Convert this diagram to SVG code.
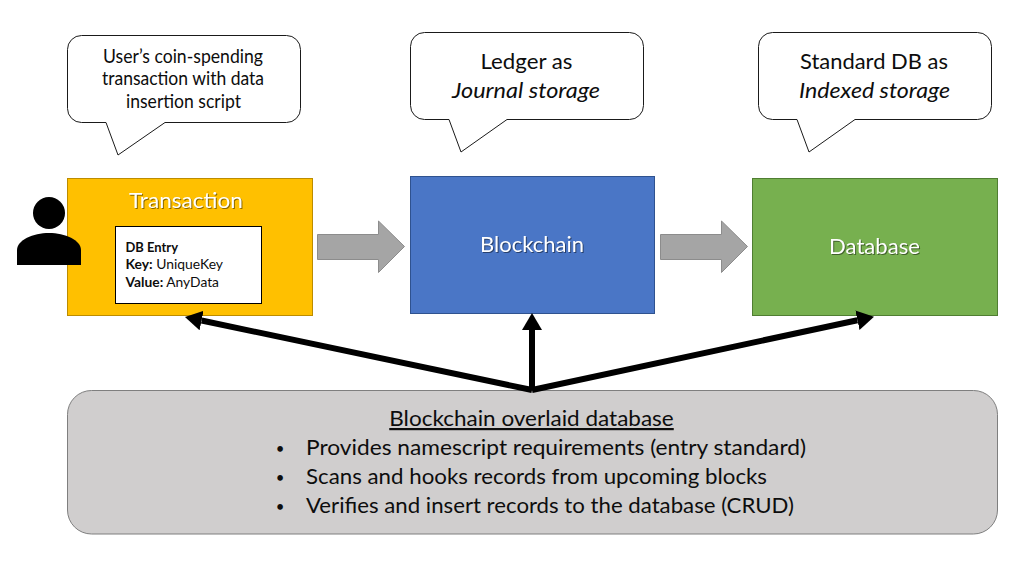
<svg xmlns="http://www.w3.org/2000/svg" width="1023" height="567" viewBox="0 0 1023 567">
  <style>
    text { font-family: "Lato", "Open Sans", "Liberation Sans", sans-serif; fill: #0d0d0d; text-anchor: middle; }
    .bubble { fill: #fff; stroke: #1a1a1a; stroke-width: 1; stroke-linejoin: round; }
    .callout { font-size: 18.500px; }
    .callout-large { font-size: 22px; }
    .title { font-size: 22px; fill: #fff; filter: drop-shadow(1px 1px 0.7px rgba(0,0,0,0.45)); }
    .entry { font-size: 13.500px; text-anchor: start; }
    .bold { font-weight: 700; }
    .list { font-size: 22px; text-anchor: start; }
    .dot { font-size: 15px; text-anchor: middle; }
    .flow { fill: #a5a5a5; stroke: #8c8c8c; stroke-width: 1; }
    .link { fill: none; stroke: #000; stroke-width: 6; }
  </style>
  <defs>
    <marker id="head" markerUnits="userSpaceOnUse" markerWidth="17" markerHeight="20" refX="0" refY="10" orient="auto">
      <path d="M0 0L17 10L0 20Z" fill="#000"/>
    </marker>
  </defs>

  <g id="note-transaction">
    <path class="bubble" d="M82 35.500H286.500A14 14 0 0 1 300.500 49.500V108.500A14 14 0 0 1 286.500 122.500H165L118 155L106 122.500H81.500A14 14 0 0 1 67.500 108.500V49.500A14 14 0 0 1 81.500 35.500Z"/>
    <text class="callout" x="183" y="62.500" textLength="160" lengthAdjust="spacingAndGlyphs">User’s coin-spending</text>
    <text class="callout" x="183" y="85" textLength="162" lengthAdjust="spacingAndGlyphs">transaction with data</text>
    <text class="callout" x="183.500" y="107.500" textLength="115" lengthAdjust="spacingAndGlyphs">insertion script</text>
  </g>
  <g id="note-blockchain">
    <path class="bubble" d="M425 32.500H629.500A14 14 0 0 1 643.500 46.500V105.500A14 14 0 0 1 629.500 119.500H507L461 152L449 119.500H424.500A14 14 0 0 1 410.500 105.500V46.500A14 14 0 0 1 424.500 32.500Z"/>
    <text class="callout-large" x="526.500" y="69" textLength="92" lengthAdjust="spacingAndGlyphs">Ledger as</text>
    <text class="callout-large" font-style="italic" x="526" y="98" textLength="148" lengthAdjust="spacingAndGlyphs">Journal storage</text>
  </g>
  <g id="note-database">
    <path class="bubble" d="M773 32.500H977.500A14 14 0 0 1 991.500 46.500V105.500A14 14 0 0 1 977.500 119.500H855L809 152L797 119.500H772.500A14 14 0 0 1 758.500 105.500V46.500A14 14 0 0 1 772.500 32.500Z"/>
    <text class="callout-large" x="874" y="69" textLength="148" lengthAdjust="spacingAndGlyphs">Standard DB as</text>
    <text class="callout-large" font-style="italic" x="874.500" y="98" textLength="151" lengthAdjust="spacingAndGlyphs">Indexed storage</text>
  </g>

  <g id="transaction">
    <rect x="67.500" y="178.500" width="245" height="137" fill="#ffc000" stroke="#bc8c00"/>
    <text class="title" x="186" y="208" textLength="114" lengthAdjust="spacingAndGlyphs">Transaction</text>
  </g>
  <g id="db-entry">
    <rect x="115.500" y="226.500" width="146" height="77" fill="#fff" stroke="#000"/>
    <text class="entry bold" x="125.500" y="252" textLength="52.500" lengthAdjust="spacingAndGlyphs">DB Entry</text>
    <text class="entry" x="125.500" y="269" textLength="97.500" lengthAdjust="spacingAndGlyphs"><tspan class="bold">Key:</tspan> UniqueKey</text>
    <text class="entry" x="125.500" y="287" textLength="93.500" lengthAdjust="spacingAndGlyphs"><tspan class="bold">Value:</tspan> AnyData</text>
  </g>
  <g id="user">
    <circle cx="49" cy="213" r="16" fill="#000"/>
    <path d="M17 265V250C17 240 33 233 49 233C65 233 81 240 81 250V265Z" fill="#000"/>
  </g>
  <g id="blockchain">
    <rect x="410.500" y="176.500" width="244" height="137" fill="#4a76c6" stroke="#2f528f"/>
    <text class="title" x="532" y="252" textLength="104" lengthAdjust="spacingAndGlyphs">Blockchain</text>
  </g>
  <g id="database">
    <rect x="752.500" y="178.500" width="245" height="137" fill="#77b04f" stroke="#507e32"/>
    <text class="title" x="874.500" y="254" textLength="91" lengthAdjust="spacingAndGlyphs">Database</text>
  </g>
  <g id="overlay">
    <rect x="67.500" y="390.500" width="930" height="143.500" rx="24" ry="24" fill="#d0cece" stroke="#7f7f7f"/>
    <text x="531.500" y="426" font-size="22" text-decoration="underline" textLength="284.500" lengthAdjust="spacingAndGlyphs">Blockchain overlaid database</text>
    <text class="dot" x="280" y="454">•</text>
    <text class="list" x="306" y="455" textLength="500" lengthAdjust="spacingAndGlyphs">Provides namescript requirements (entry standard)</text>
    <text class="dot" x="280" y="483">•</text>
    <text class="list" x="306" y="484" textLength="461" lengthAdjust="spacingAndGlyphs">Scans and hooks records from upcoming blocks</text>
    <text class="dot" x="280" y="512">•</text>
    <text class="list" x="306" y="513" textLength="488" lengthAdjust="spacingAndGlyphs">Verifies and insert records to the database (CRUD)</text>
  </g>

  <g id="connectors">
    <path class="flow" d="M317.500 234.500H378.500V221L404.500 246.500L378.500 272.500V259.500H317.500Z"/>
    <path class="flow" d="M660.500 234.500H721.500V221L747.500 246.500L721.500 272.500V259.500H660.500Z"/>
    <path class="link" marker-end="url(#head)" d="M532 390L201.600 320.500"/>
    <path class="link" marker-end="url(#head)" d="M532 390V330"/>
    <path class="link" marker-end="url(#head)" d="M532 390L857.400 320.200"/>
  </g>
</svg>
